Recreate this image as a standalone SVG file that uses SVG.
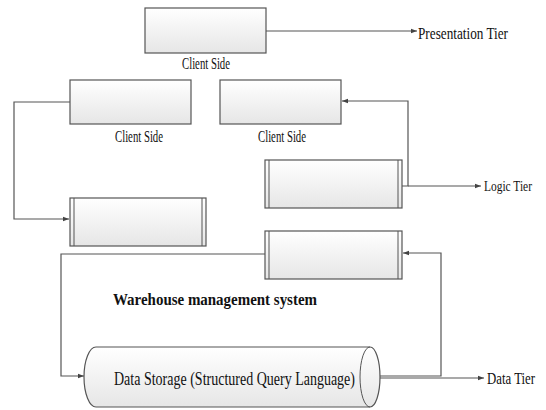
<svg xmlns="http://www.w3.org/2000/svg" width="546" height="410" viewBox="0 0 546 410">
<defs>
<linearGradient id="g" x1="0" y1="0" x2="0" y2="1">
<stop offset="0" stop-color="#ffffff"/>
<stop offset="1" stop-color="#e6e6e6"/>
</linearGradient>
<marker id="a" viewBox="0 0 6 6" refX="6" refY="3" markerWidth="6" markerHeight="6" orient="auto" markerUnits="userSpaceOnUse">
<path d="M0,0.8 L6,3 L0,5.2 Z" fill="#444"/>
</marker>
</defs>
<style>
.box{fill:url(#g);stroke:#555;stroke-width:1.2}
.in{stroke:#555;stroke-width:1;fill:none}
.c{fill:none;stroke:#555;stroke-width:1.2}
.t{font-family:"Liberation Serif","Times New Roman",serif;fill:#111}
</style>
<rect width="546" height="410" fill="#fff"/>
<g id="connectors">
<path class="c" d="M266,31 H417" marker-end="url(#a)"/>
<path class="c" d="M70,102 H14 V219 H69" marker-end="url(#a)"/>
<path class="c" d="M402,186 H408 V101 H342" marker-end="url(#a)"/>
<path class="c" d="M408,186 H481" marker-end="url(#a)"/>
<path class="c" d="M265,254 H61 V376 H84" marker-end="url(#a)"/>
<path class="c" d="M372,376 H441 V253 H403" marker-end="url(#a)"/>
<path class="c" d="M372,378 H484" marker-end="url(#a)"/>
</g>
<g id="client-top">
<rect class="box" x="145" y="8" width="121" height="45"/>
<text class="t" x="206" y="69" font-size="16" text-anchor="middle" textLength="48" lengthAdjust="spacingAndGlyphs">Client Side</text>
</g>
<g id="client-left">
<rect class="box" x="70" y="80" width="121" height="44"/>
<text class="t" x="139" y="142" font-size="16" text-anchor="middle" textLength="48" lengthAdjust="spacingAndGlyphs">Client Side</text>
</g>
<g id="client-right">
<rect class="box" x="220" y="80" width="121" height="44"/>
<text class="t" x="282" y="142" font-size="16" text-anchor="middle" textLength="48" lengthAdjust="spacingAndGlyphs">Client Side</text>
</g>
<g id="logic-box">
<rect class="box" x="265" y="160" width="137" height="48"/>
<path class="in" d="M269,160 V208 M398,160 V208"/>
</g>
<g id="left-box">
<rect class="box" x="70" y="198" width="136" height="48"/>
<path class="in" d="M74,198 V246 M202,198 V246"/>
</g>
<g id="data-box">
<rect class="box" x="265" y="231" width="137" height="48"/>
<path class="in" d="M269,231 V279 M398,231 V279"/>
</g>
<g id="storage">
<path class="box" d="M96,347 H370 A10,30 0 0 1 370,407 H96 A12,30 0 0 1 96,347 Z"/>
<path class="in" d="M370,347 A10,30 0 0 0 370,407"/>
<text class="t" x="114" y="385" font-size="18" textLength="241" lengthAdjust="spacingAndGlyphs">Data Storage (Structured Query Language)</text>
</g>
<g id="labels">
<text class="t" x="418" y="39" font-size="17" textLength="90" lengthAdjust="spacingAndGlyphs">Presentation Tier</text>
<text class="t" x="484" y="191" font-size="14" textLength="48" lengthAdjust="spacingAndGlyphs">Logic Tier</text>
<text class="t" x="487" y="384" font-size="16" textLength="48" lengthAdjust="spacingAndGlyphs">Data Tier</text>
<text class="t" x="113" y="305" font-size="16" font-weight="bold" textLength="204" lengthAdjust="spacingAndGlyphs">Warehouse management system</text>
</g>
</svg>
